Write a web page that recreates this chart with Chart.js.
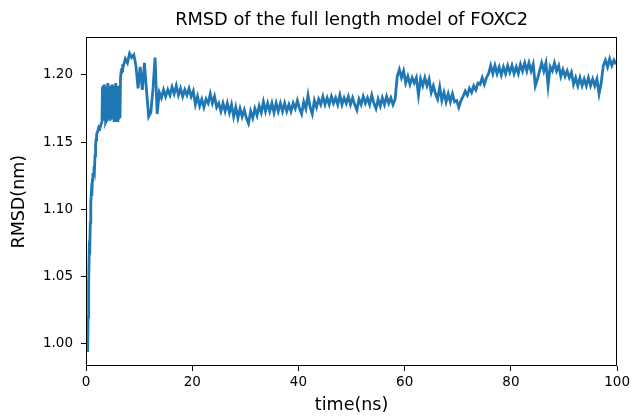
<!DOCTYPE html>
<html>
<head>
<meta charset="utf-8">
<script src="https://cdn.jsdelivr.net/npm/chart.js@4.4.1/dist/chart.umd.min.js"></script>
<style>
  html, body { margin: 0; padding: 0; background: #fff; }
  #wrap { width: 633px; height: 416px; position: relative; }
</style>
</head>
<body>
<div id="wrap"><canvas id="rmsdChart"></canvas></div>
<script>
// first 7 ns: equilibration ramp and the flickering block (ns, nm)
const earlyTime = [
  0.3, 0.4, 0.5, 0.6, 0.7, 0.8, 0.9, 1.0, 1.1, 1.2, 1.3, 1.4, 1.5, 1.6, 1.7, 1.8, 1.9, 2.0, 2.2, 2.4, 2.6, 2.8,
  3.0, 3.1, 3.2, 3.3, 3.4, 3.5, 3.6, 3.7, 3.8, 3.9,
  4.0, 4.1, 4.2, 4.3, 4.4, 4.5, 4.6, 4.7, 4.8, 4.9,
  5.0, 5.1, 5.2, 5.3, 5.4, 5.5, 5.6, 5.7, 5.8, 5.9,
  6.0, 6.1, 6.2, 6.3, 6.4, 6.5, 6.6, 6.7, 6.8, 6.9
];
const earlyRmsd = [
  0.994, 1.020, 1.045, 1.068, 1.066, 1.090, 1.105, 1.112, 1.110, 1.122, 1.127, 1.125, 1.132, 1.130, 1.140, 1.148, 1.152, 1.156, 1.158, 1.161, 1.160, 1.163,
  1.165, 1.190, 1.192, 1.166, 1.193, 1.167, 1.189, 1.165, 1.166, 1.191,
  1.168, 1.194, 1.190, 1.167, 1.192, 1.166, 1.169, 1.190, 1.167, 1.193,
  1.168, 1.192, 1.189, 1.166, 1.191, 1.168, 1.194, 1.167, 1.190, 1.166,
  1.169, 1.192, 1.167, 1.190, 1.168, 1.198, 1.202, 1.205, 1.203, 1.208
];

// rest of the trajectory, one sample every 0.4 ns from 7.0 ns
const sampleStart = 7.0;
const sampleStep = 0.4;
const rmsd = [
  1.206, 1.212, 1.209, 1.216, 1.213, 1.215, 1.207, 1.190, 1.206, 1.189, // 7.0
  1.209, 1.188, 1.169, 1.172, 1.189, 1.213, 1.171, 1.187, 1.183, 1.189, // 11.0
  1.184, 1.189, 1.185, 1.191, 1.186, 1.192, 1.185, 1.190, 1.184, 1.189, // 15.0
  1.185, 1.190, 1.184, 1.188, 1.178, 1.184, 1.177, 1.182, 1.176, 1.182, // 19.0
  1.179, 1.186, 1.179, 1.184, 1.176, 1.179, 1.173, 1.179, 1.173, 1.179, // 23.0
  1.172, 1.178, 1.169, 1.176, 1.168, 1.175, 1.169, 1.174, 1.168, 1.164, // 27.0
  1.173, 1.168, 1.175, 1.170, 1.177, 1.172, 1.180, 1.173, 1.179, 1.173, // 31.0
  1.179, 1.172, 1.179, 1.173, 1.179, 1.173, 1.179, 1.173, 1.178, 1.173, // 35.0
  1.179, 1.175, 1.181, 1.175, 1.171, 1.180, 1.175, 1.185, 1.176, 1.171, // 39.0
  1.181, 1.176, 1.182, 1.178, 1.184, 1.178, 1.183, 1.178, 1.184, 1.179, // 43.0
  1.183, 1.178, 1.185, 1.178, 1.183, 1.179, 1.184, 1.178, 1.183, 1.178, // 47.0
  1.174, 1.182, 1.178, 1.184, 1.179, 1.183, 1.178, 1.185, 1.179, 1.175, // 51.0
  1.182, 1.177, 1.183, 1.178, 1.184, 1.179, 1.183, 1.178, 1.182, 1.199, // 55.0
  1.204, 1.198, 1.203, 1.194, 1.199, 1.193, 1.198, 1.194, 1.198, 1.185, // 59.0
  1.197, 1.192, 1.198, 1.192, 1.197, 1.187, 1.192, 1.186, 1.182, 1.191, // 63.0
  1.181, 1.187, 1.180, 1.186, 1.180, 1.186, 1.180, 1.181, 1.176, 1.181, // 67.0
  1.184, 1.188, 1.185, 1.190, 1.187, 1.192, 1.189, 1.194, 1.193, 1.198, // 71.0
  1.193, 1.198, 1.201, 1.207, 1.201, 1.207, 1.201, 1.206, 1.200, 1.206, // 75.0
  1.201, 1.207, 1.202, 1.207, 1.201, 1.206, 1.201, 1.208, 1.203, 1.209, // 79.0
  1.203, 1.209, 1.203, 1.208, 1.192, 1.197, 1.203, 1.209, 1.203, 1.209, // 83.0
  1.192, 1.206, 1.203, 1.209, 1.203, 1.207, 1.199, 1.204, 1.199, 1.203, // 87.0
  1.198, 1.202, 1.193, 1.198, 1.192, 1.198, 1.192, 1.197, 1.192, 1.198, // 91.0
  1.192, 1.197, 1.192, 1.197, 1.186, 1.194, 1.207, 1.211, 1.206, 1.212, // 95.0
  1.207, 1.211, 1.208                                                   // 99.0
];

const xTicks = [0, 20, 40, 60, 80, 100];
const yTicks = [1.00, 1.05, 1.10, 1.15, 1.20];

const points = earlyTime.map((t, i) => ({ x: t, y: earlyRmsd[i] }))
  .concat(rmsd.map((v, i) => ({ x: sampleStart + i * sampleStep, y: v })));

Chart.defaults.font.family = "'DejaVu Sans', sans-serif";
Chart.defaults.color = '#000';

// black frame round the plot area, like matplotlib spines,
// and the title centred over the plot area rather than the canvas
const frame = {
  id: 'frame',
  afterLayout(chart) {
    const tb = chart.titleBlock;
    if (tb) {
      tb.left = chart.chartArea.left;
      tb.right = chart.chartArea.right;
    }
  },
  afterDatasetsDraw(chart) {
    const a = chart.chartArea;
    const ctx = chart.ctx;
    ctx.save();
    ctx.strokeStyle = '#000';
    ctx.lineWidth = 1;
    ctx.strokeRect(Math.round(a.left) + 0.5, Math.round(a.top) + 0.5,
      Math.round(a.right - a.left) - 1, Math.round(a.bottom - a.top) - 1);
    ctx.restore();
  }
};

new Chart(document.getElementById('rmsdChart'), {
  type: 'line',
  data: {
    datasets: [{
      data: points,
      borderColor: '#1f77b4',
      borderWidth: 2.8,
      pointRadius: 0,
      tension: 0,
      fill: false
    }]
  },
  options: {
    responsive: true,
    maintainAspectRatio: false,
    animation: false,
    layout: { padding: { left: 0, right: 15, top: 0, bottom: 0 } },
    plugins: {
      legend: { display: false },
      tooltip: { enabled: false },
      title: {
        display: true,
        text: 'RMSD of the full length model of FOXC2',
        font: { size: 17.8, weight: 'normal' },
        color: '#000',
        padding: { top: 10, bottom: 6 }
      }
    },
    scales: {
      x: {
        type: 'linear',
        min: 0,
        max: 100,
        afterBuildTicks: s => { s.ticks = xTicks.map(v => ({ value: v })); },
        afterFit: s => { s.height = 50; },
        grid: { display: true, drawOnChartArea: false, drawTicks: true, tickLength: 5, color: '#000' },
        border: { display: false },
        ticks: { font: { size: 13.5 }, padding: 3, maxRotation: 0 },
        title: { display: true, text: 'time(ns)', font: { size: 17.5 }, padding: { top: 0, bottom: 0 } }
      },
      y: {
        type: 'linear',
        min: 0.9835,
        max: 1.228,
        afterBuildTicks: s => { s.ticks = yTicks.map(v => ({ value: v })); },
        afterFit: s => { s.width = 86; },
        grid: { display: true, drawOnChartArea: false, drawTicks: true, tickLength: 5, color: '#000' },
        border: { display: false },
        ticks: { font: { size: 13.5 }, padding: 8, callback: v => v.toFixed(2) },
        title: { display: true, text: 'RMSD(nm)', font: { size: 17.5 }, padding: { top: 9, bottom: 0 } }
      }
    }
  },
  plugins: [frame]
});
</script>
</body>
</html>
